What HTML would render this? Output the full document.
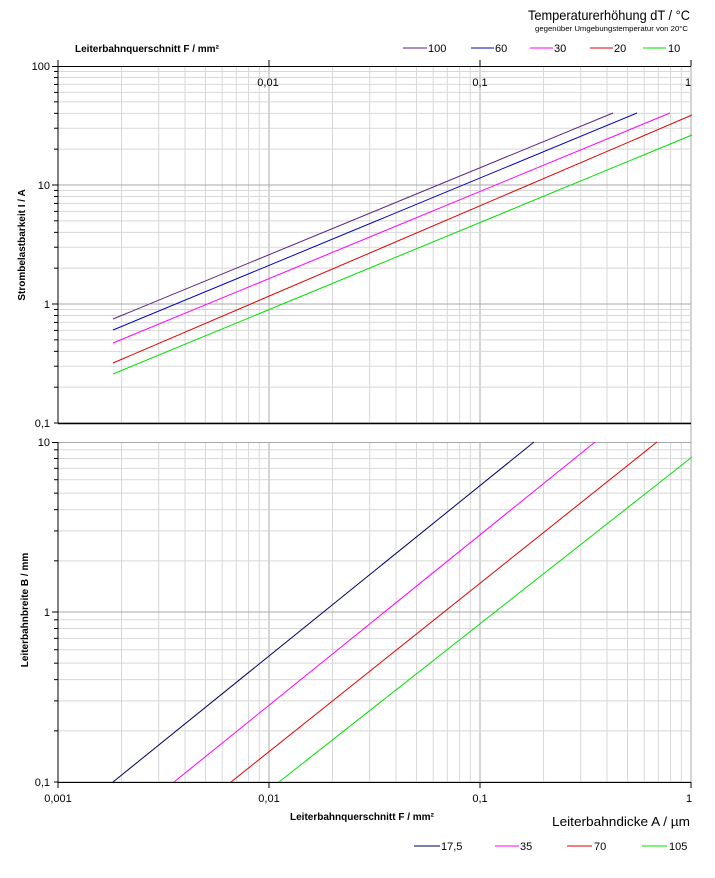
<!DOCTYPE html>
<html><head><meta charset="utf-8"><style>
body{margin:0;background:#fff}
svg{display:block;font-family:"Liberation Sans",sans-serif}
</style></head><body>
<svg id="s" width="715" height="878" xmlns="http://www.w3.org/2000/svg">
<g id="grid"></g>
<g font-size="11" fill="#000">
<text x="690" y="20" text-anchor="end" font-size="14" textLength="162" lengthAdjust="spacingAndGlyphs">Temperaturerhöhung dT / °C</text>
<text x="688" y="31" text-anchor="end" font-size="7" textLength="153" lengthAdjust="spacingAndGlyphs">gegenüber Umgebungstemperatur von 20°C</text>
<text x="75" y="52" font-weight="bold" font-size="10">Leiterbahnquerschnitt F / mm²</text>
<text x="290" y="820" font-weight="bold" font-size="10">Leiterbahnquerschnitt F / mm²</text>
<text x="690" y="826" text-anchor="end" font-size="13" textLength="138" lengthAdjust="spacingAndGlyphs">Leiterbahndicke A / µm</text>
<text transform="translate(25,245) rotate(-90)" text-anchor="middle" font-weight="bold" font-size="10">Strombelastbarkeit I / A</text>
<text transform="translate(28,610) rotate(-90)" text-anchor="middle" font-weight="bold" font-size="10">Leiterbahnbreite B / mm</text>
<text x="50" y="70" text-anchor="end">100</text>
<text x="50" y="189" text-anchor="end">10</text>
<text x="50" y="308" text-anchor="end">1</text>
<text x="50" y="427" text-anchor="end">0,1</text>
<text x="50" y="446" text-anchor="end">10</text>
<text x="50" y="616" text-anchor="end">1</text>
<text x="50" y="786" text-anchor="end">0,1</text>
<text x="268" y="86" text-anchor="middle">0,01</text>
<text x="480" y="86" text-anchor="middle">0,1</text>
<text x="688" y="86" text-anchor="middle">1</text>
<text x="58" y="802" text-anchor="middle">0,001</text>
<text x="269" y="802" text-anchor="middle">0,01</text>
<text x="480" y="802" text-anchor="middle">0,1</text>
<text x="689" y="802" text-anchor="middle">1</text>
</g>
<g stroke-width="1" fill="none">
<line x1="113" y1="319" x2="613" y2="113" stroke="#602080"/>
<line x1="113" y1="330" x2="637" y2="113" stroke="#0000c0"/>
<line x1="113" y1="343" x2="670" y2="113" stroke="#ff00ff"/>
<line x1="113" y1="363" x2="692" y2="115" stroke="#e00000"/>
<line x1="113" y1="374" x2="692" y2="135" stroke="#00e000"/>
<line x1="113" y1="782" x2="534" y2="442" stroke="#000060"/>
<line x1="174" y1="782" x2="595" y2="442" stroke="#ff00ff"/>
<line x1="231" y1="782" x2="657" y2="442" stroke="#e00000"/>
<line x1="279" y1="782" x2="692" y2="457" stroke="#00e000"/>
</g>
<g font-size="11">
<line x1="403" y1="48" x2="427" y2="48" stroke="#602080"/><text x="428" y="52">100</text>
<line x1="471" y1="48" x2="494" y2="48" stroke="#0000c0"/><text x="495" y="52">60</text>
<line x1="530" y1="48" x2="553" y2="48" stroke="#ff00ff"/><text x="554" y="52">30</text>
<line x1="590" y1="48" x2="613" y2="48" stroke="#e00000"/><text x="614" y="52">20</text>
<line x1="643" y1="48" x2="666" y2="48" stroke="#00e000"/><text x="668" y="52">10</text>
<line x1="414" y1="846" x2="440" y2="846" stroke="#000060"/><text x="441" y="850">17,5</text>
<line x1="495" y1="846" x2="519" y2="846" stroke="#ff00ff"/><text x="520" y="850">35</text>
<line x1="567" y1="846" x2="592" y2="846" stroke="#e00000"/><text x="594" y="850">70</text>
<line x1="642" y1="846" x2="667" y2="846" stroke="#00e000"/><text x="669" y="850">105</text>
</g>
</svg>
<script>
var g=document.getElementById('grid'),ns='http://www.w3.org/2000/svg';
function L(x1,y1,x2,y2,c,w){var l=document.createElementNS(ns,'line');l.setAttribute('x1',x1);l.setAttribute('y1',y1);l.setAttribute('x2',x2);l.setAttribute('y2',y2);l.setAttribute('stroke',c);l.setAttribute('stroke-width',w||1);g.appendChild(l);}
var X0=58,XD=211;
for(var d=0;d<3;d++)for(var k=1;k<10;k++){var x=X0+XD*(d+Math.log10(k));var c=k==1?'#a8a8a8':'#d8d8d8';
if(d==0&&k==1)continue;L(x,66,x,423,c);L(x,442,x,782,c);}
L(691,66,691,782,'#a8a8a8');
var T0=66,TD=119;
for(var d=0;d<3;d++)for(var k=1;k<10;k++){var y=T0+TD*(d+1-Math.log10(k));var c=k==1?'#a8a8a8':'#d8d8d8';L(X0,y,691,y,c);L(X0-4,y,X0,y,'#000');}
var B0=442,BD=170;
for(var d=0;d<2;d++)for(var k=1;k<10;k++){var y=B0+BD*(d+1-Math.log10(k));var c=k==1?'#a8a8a8':'#d8d8d8';L(X0,y,691,y,c);L(X0-4,y,X0,y,'#000');}
L(X0,442.5,691,442.5,'#a8a8a8');
L(X0,66.5,691,66.5,'#000');L(X0,423.5,691,423.5,'#000',1.5);L(X0,782.5,691,782.5,'#000');
L(X0,66,X0,423,'#000');L(X0,442,X0,782,'#000');
L(X0-6,66.5,X0,66.5,'#000');L(X0-6,185,X0,185,'#000');L(X0-6,304,X0,304,'#000');L(X0-6,442.5,X0,442.5,'#000');L(X0-6,612,X0,612,'#000');
[58,269,480,691].forEach(function(x){L(x,782,x,788,'#000');L(x,60,x,66,'#000');});
</script>
</body></html>
